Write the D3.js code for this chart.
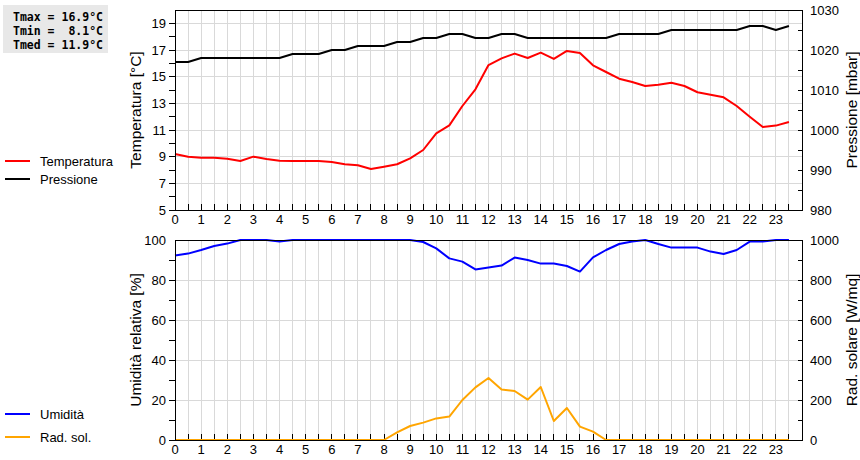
<!DOCTYPE html>
<html><head><meta charset="utf-8">
<script src="https://cdn.jsdelivr.net/npm/d3@7"></script>
<style>
body{margin:0;background:#fff;}
svg{display:block;}
text{font-family:"Liberation Sans",Arial,sans-serif;fill:#000;}
</style></head><body>
<svg id="c" width="860" height="460"></svg>
<script>
const hours = d3.range(0, 24, 0.5);
const temperatura = [9.2,9.0,8.92,8.92,8.85,8.67,9.0,8.83,8.7,8.67,8.67,8.67,8.6,8.43,8.35,8.07,8.25,8.43,8.87,9.5,10.75,11.35,12.8,14.05,
  15.87,16.37,16.73,16.4,16.8,16.33,16.93,16.78,15.85,15.35,14.85,14.6,14.3,14.4,14.55,14.3,13.83,13.65,13.45,12.8,12.0,11.22,11.33,11.6];
const pressione = [1017,1017,1018,1018,1018,1018,1018,1018,1018,1019,1019,1019,1020,1020,1021,1021,1021,1022,1022,1023,1023,1024,1024,1023,
  1023,1024,1024,1023,1023,1023,1023,1023,1023,1023,1024,1024,1024,1024,1025,1025,1025,1025,1025,1025,1026,1026,1025,1026];
const umidita = [92.2,93.2,95,97,98.2,100,100,100,99.2,100,100,100,100,100,100,100,100,100,100,99,95.8,90.8,89.2,85.3,
  86.2,87.2,91.2,90,88.2,88.2,87,84.2,91.3,95,98,99.2,100,98,96.2,96.2,96.2,94.2,93,95,99.2,99.2,100,100];
const radiazione = [0,0,0,0,0,0,0,0,0,0,0,0,0,0,0,0,0,38,70,87,108,117,200,263,
  310,253,245,202,265,95,160,67,42,0,0,0,0,0,0,0,0,0,0,0,0,0,0,0];
const hourTicks = d3.range(0, 24);
const tempTicks = [5,7,9,11,13,15,17,19];
const presTicks = [980,990,1000,1010,1020,1030];
const umidTicks = [0,20,40,60,80,100];
const radTicks = [0,200,400,600,800,1000];
const stats = ["Tmax = 16.9°C","Tmin =  8.1°C","Tmed = 11.9°C"];

const svg = d3.select("#c");
const L = 175, R = 802;
const x = d3.scaleLinear().domain([0,24]).range([L,R]);
const top1 = 10, bot1 = 210, top2 = 240, bot2 = 440;
const yT = d3.scaleLinear().domain([5,20]).range([bot1,top1]);
const yP = d3.scaleLinear().domain([980,1030]).range([bot1,top1]);
const yU = d3.scaleLinear().domain([0,100]).range([bot2,top2]);
const yR = d3.scaleLinear().domain([0,1000]).range([bot2,top2]);
const grid = "#d9d9d9";

function panel(top, bot, yl, yr, lticks, lminor, rticks, rminor, series, ltitle, rtitle) {
  const g = svg.append("g");
  // vertical grid
  g.selectAll(".vg").data(d3.range(0.5, 24, 0.5)).join("line")
    .attr("x1", d=>x(d)).attr("x2", d=>x(d)).attr("y1", top).attr("y2", bot)
    .attr("stroke", grid).attr("stroke-width", 1).attr("shape-rendering","crispEdges");
  g.selectAll(".hg").data(lticks.slice(1)).join("line")
    .attr("x1", L).attr("x2", R).attr("y1", d=>yl(d)).attr("y2", d=>yl(d))
    .attr("stroke", grid).attr("stroke-width", 1).attr("shape-rendering","crispEdges");
  // x ticks inward
  g.selectAll(".xt").data(d3.range(0.5, 24, 0.5)).join("line")
    .attr("x1", d=>x(d)).attr("x2", d=>x(d)).attr("y1", bot).attr("y2", bot-6)
    .attr("stroke", "#000").attr("shape-rendering","crispEdges");
  // left ticks outward
  g.selectAll(".lt").data(lminor).join("line")
    .attr("x1", L-6).attr("x2", L).attr("y1", d=>yl(d)).attr("y2", d=>yl(d))
    .attr("stroke", "#000").attr("shape-rendering","crispEdges");
  // right ticks inward
  g.selectAll(".rt").data(rminor).join("line")
    .attr("x1", R-4).attr("x2", R).attr("y1", d=>yr(d)).attr("y2", d=>yr(d))
    .attr("stroke", "#000").attr("shape-rendering","crispEdges");
  // series
  series.forEach(s => {
    const line = d3.line().x((d,i)=>x(hours[i])).y(d=>s.y(d));
    g.append("path").datum(s.data).attr("d", line).attr("fill","none")
      .attr("stroke", s.color).attr("stroke-width", 2).attr("stroke-linejoin","round");
  });
  g.append("rect").attr("x", L+0.5).attr("y", top+0.5).attr("width", R-L).attr("height", bot-top)
    .attr("fill","none").attr("stroke","#000").attr("shape-rendering","crispEdges");
  // labels
  g.selectAll(".xl").data(hourTicks).join("text")
    .attr("x", d=>x(d)).attr("y", bot+14).attr("text-anchor","middle").attr("font-size",13).text(d=>d);
  g.selectAll(".ll").data(lticks).join("text")
    .attr("x", L-9).attr("y", d=>yl(d)+4.5).attr("text-anchor","end").attr("font-size",13).text(d=>d);
  g.selectAll(".rl").data(rticks).join("text")
    .attr("x", R+8).attr("y", d=>yr(d)+4.5).attr("text-anchor","start").attr("font-size",13).text(d=>d);
  const mid = (top+bot)/2;
  g.append("text").attr("transform", `translate(141,${mid}) rotate(-90)`).attr("text-anchor","middle")
    .attr("font-size",15.5).text(ltitle);
  g.append("text").attr("transform", `translate(857,${mid}) rotate(-90)`).attr("text-anchor","middle")
    .attr("font-size",15.5).text(rtitle);
}

panel(top1, bot1, yT, yP, tempTicks, d3.range(5,20,1), presTicks, d3.range(985,1030,5),
  [{data: pressione, y: yP, color:"#000"}, {data: temperatura, y: yT, color:"#ff0000"}],
  "Temperatura [°C]", "Pressione [mbar]");
panel(top2, bot2, yU, yR, umidTicks, d3.range(0,100,10), radTicks, d3.range(100,1000,100),
  [{data: radiazione, y: yR, color:"#ffa500"}, {data: umidita, y: yU, color:"#0000ff"}],
  "Umidità relativa [%]", "Rad. solare [W/mq]");

// legends
const legends = [
  {label:"Temperatura", color:"#ff0000", y:161},
  {label:"Pressione", color:"#000", y:179},
  {label:"Umidità", color:"#0000ff", y:414},
  {label:"Rad. sol.", color:"#ffa500", y:437}
];
legends.forEach(l => {
  svg.append("line").attr("x1",5).attr("x2",30).attr("y1",l.y).attr("y2",l.y)
    .attr("stroke", l.color).attr("stroke-width",2);
  svg.append("text").attr("x",40).attr("y",l.y+5).attr("font-size",13).text(l.label);
});

// stats box
svg.append("rect").attr("x",3).attr("y",5).attr("width",105).attr("height",48).attr("fill","#e8e8e8");
svg.selectAll(".st").data(stats).join("text")
  .attr("x",13).attr("y",(d,i)=>21+i*14).attr("font-size",11.5).attr("font-weight","bold")
  .style("font-family","'DejaVu Sans Mono',monospace").style("white-space","pre")
  .attr("xml:space","preserve").text(d=>d);
</script>
</body></html>
